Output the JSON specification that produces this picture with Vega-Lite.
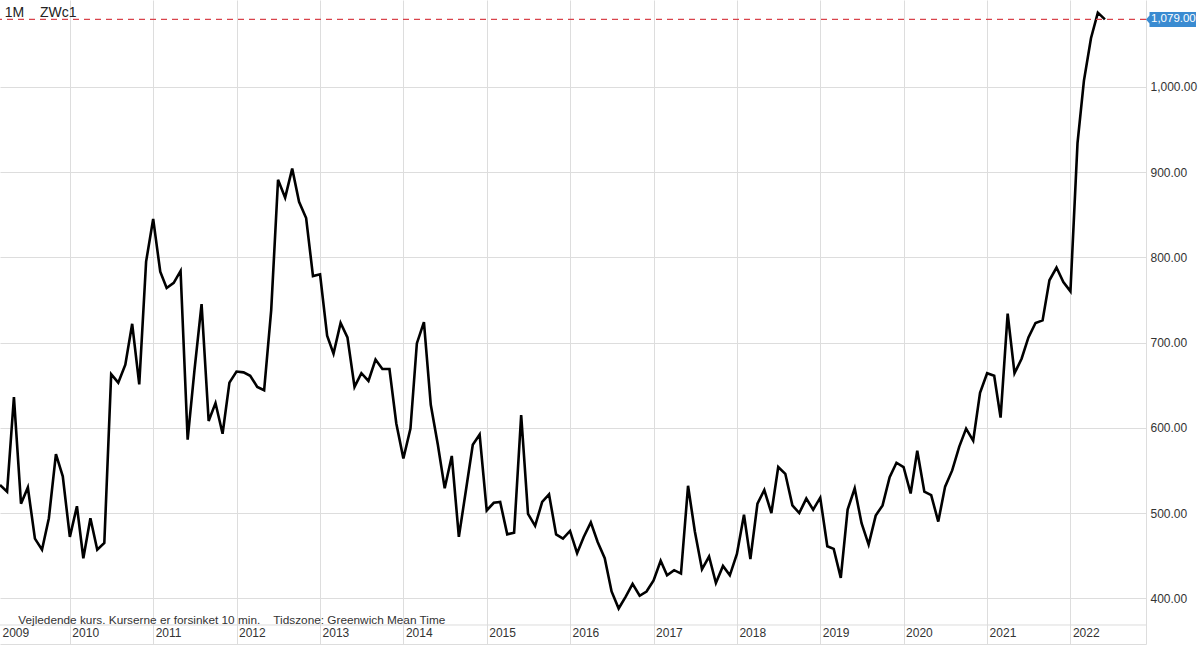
{
  "$schema": "https://vega.github.io/schema/vega-lite/v6.json",
  "width": 1146,
  "height": 644,
  "autosize": {"type": "none"},
  "padding": {"left": 0, "top": 0, "right": 54, "bottom": 7},
  "background": "white",
  "config": {"view": {"stroke": null}, "font": "Liberation Sans"},
  "data": {"values": [
    {"date": "2009-03-01", "price": 533}, {"date": "2009-04-01", "price": 525}, {"date": "2009-05-01", "price": 636}, {"date": "2009-06-01", "price": 511}, {"date": "2009-07-01", "price": 530}, {"date": "2009-08-01", "price": 470}, {"date": "2009-09-01", "price": 457}, {"date": "2009-10-01", "price": 494}, {"date": "2009-11-01", "price": 569}, {"date": "2009-12-01", "price": 543},
    {"date": "2010-01-01", "price": 472}, {"date": "2010-02-01", "price": 508}, {"date": "2010-03-01", "price": 447}, {"date": "2010-04-01", "price": 494}, {"date": "2010-05-01", "price": 457}, {"date": "2010-06-01", "price": 465}, {"date": "2010-07-01", "price": 663}, {"date": "2010-08-01", "price": 653}, {"date": "2010-09-01", "price": 674}, {"date": "2010-10-01", "price": 722}, {"date": "2010-11-01", "price": 651}, {"date": "2010-12-01", "price": 795},
    {"date": "2011-01-01", "price": 845}, {"date": "2011-02-01", "price": 783}, {"date": "2011-03-01", "price": 764}, {"date": "2011-04-01", "price": 770}, {"date": "2011-05-01", "price": 784}, {"date": "2011-06-01", "price": 586}, {"date": "2011-07-01", "price": 668}, {"date": "2011-08-01", "price": 745}, {"date": "2011-09-01", "price": 608}, {"date": "2011-10-01", "price": 629}, {"date": "2011-11-01", "price": 593}, {"date": "2011-12-01", "price": 653},
    {"date": "2012-01-01", "price": 666}, {"date": "2012-02-01", "price": 665}, {"date": "2012-03-01", "price": 661}, {"date": "2012-04-01", "price": 648}, {"date": "2012-05-01", "price": 644}, {"date": "2012-06-01", "price": 738}, {"date": "2012-07-01", "price": 891}, {"date": "2012-08-01", "price": 870}, {"date": "2012-09-01", "price": 904}, {"date": "2012-10-01", "price": 865}, {"date": "2012-11-01", "price": 846}, {"date": "2012-12-01", "price": 778},
    {"date": "2013-01-01", "price": 780}, {"date": "2013-02-01", "price": 708}, {"date": "2013-03-01", "price": 687}, {"date": "2013-04-01", "price": 723}, {"date": "2013-05-01", "price": 706}, {"date": "2013-06-01", "price": 648}, {"date": "2013-07-01", "price": 664}, {"date": "2013-08-01", "price": 655}, {"date": "2013-09-01", "price": 680}, {"date": "2013-10-01", "price": 669}, {"date": "2013-11-01", "price": 669}, {"date": "2013-12-01", "price": 605},
    {"date": "2014-01-01", "price": 564}, {"date": "2014-02-01", "price": 599}, {"date": "2014-03-01", "price": 699}, {"date": "2014-04-01", "price": 724}, {"date": "2014-05-01", "price": 627}, {"date": "2014-06-01", "price": 580}, {"date": "2014-07-01", "price": 529}, {"date": "2014-08-01", "price": 567}, {"date": "2014-09-01", "price": 472}, {"date": "2014-10-01", "price": 525}, {"date": "2014-11-01", "price": 580}, {"date": "2014-12-01", "price": 592},
    {"date": "2015-01-01", "price": 503}, {"date": "2015-02-01", "price": 512}, {"date": "2015-03-01", "price": 513}, {"date": "2015-04-01", "price": 475}, {"date": "2015-05-01", "price": 477}, {"date": "2015-06-01", "price": 615}, {"date": "2015-07-01", "price": 499}, {"date": "2015-08-01", "price": 485}, {"date": "2015-09-01", "price": 513}, {"date": "2015-10-01", "price": 522}, {"date": "2015-11-01", "price": 475}, {"date": "2015-12-01", "price": 470},
    {"date": "2016-01-01", "price": 479}, {"date": "2016-02-01", "price": 453}, {"date": "2016-03-01", "price": 472}, {"date": "2016-04-01", "price": 489}, {"date": "2016-05-01", "price": 466}, {"date": "2016-06-01", "price": 447}, {"date": "2016-07-01", "price": 408}, {"date": "2016-08-01", "price": 388}, {"date": "2016-09-01", "price": 402}, {"date": "2016-10-01", "price": 417}, {"date": "2016-11-01", "price": 403}, {"date": "2016-12-01", "price": 408},
    {"date": "2017-01-01", "price": 421}, {"date": "2017-02-01", "price": 444}, {"date": "2017-03-01", "price": 427}, {"date": "2017-04-01", "price": 433}, {"date": "2017-05-01", "price": 429}, {"date": "2017-06-01", "price": 532}, {"date": "2017-07-01", "price": 478}, {"date": "2017-08-01", "price": 434}, {"date": "2017-09-01", "price": 449}, {"date": "2017-10-01", "price": 418}, {"date": "2017-11-01", "price": 438}, {"date": "2017-12-01", "price": 427},
    {"date": "2018-01-01", "price": 452}, {"date": "2018-02-01", "price": 498}, {"date": "2018-03-01", "price": 446}, {"date": "2018-04-01", "price": 511}, {"date": "2018-05-01", "price": 527}, {"date": "2018-06-01", "price": 500}, {"date": "2018-07-01", "price": 554}, {"date": "2018-08-01", "price": 546}, {"date": "2018-09-01", "price": 509}, {"date": "2018-10-01", "price": 500}, {"date": "2018-11-01", "price": 517}, {"date": "2018-12-01", "price": 504},
    {"date": "2019-01-01", "price": 518}, {"date": "2019-02-01", "price": 461}, {"date": "2019-03-01", "price": 458}, {"date": "2019-04-01", "price": 424}, {"date": "2019-05-01", "price": 504}, {"date": "2019-06-01", "price": 529}, {"date": "2019-07-01", "price": 488}, {"date": "2019-08-01", "price": 463}, {"date": "2019-09-01", "price": 497}, {"date": "2019-10-01", "price": 509}, {"date": "2019-11-01", "price": 542}, {"date": "2019-12-01", "price": 559},
    {"date": "2020-01-01", "price": 554}, {"date": "2020-02-01", "price": 523}, {"date": "2020-03-01", "price": 573}, {"date": "2020-04-01", "price": 525}, {"date": "2020-05-01", "price": 521}, {"date": "2020-06-01", "price": 490}, {"date": "2020-07-01", "price": 531}, {"date": "2020-08-01", "price": 550}, {"date": "2020-09-01", "price": 578}, {"date": "2020-10-01", "price": 599}, {"date": "2020-11-01", "price": 585}, {"date": "2020-12-01", "price": 641},
    {"date": "2021-01-01", "price": 664}, {"date": "2021-02-01", "price": 661}, {"date": "2021-03-01", "price": 612}, {"date": "2021-04-01", "price": 734}, {"date": "2021-05-01", "price": 664}, {"date": "2021-06-01", "price": 681}, {"date": "2021-07-01", "price": 706}, {"date": "2021-08-01", "price": 723}, {"date": "2021-09-01", "price": 726}, {"date": "2021-10-01", "price": 773}, {"date": "2021-11-01", "price": 788}, {"date": "2021-12-01", "price": 771},
    {"date": "2022-01-01", "price": 760}, {"date": "2022-02-01", "price": 934}, {"date": "2022-03-01", "price": 1007}, {"date": "2022-04-01", "price": 1057}, {"date": "2022-05-01", "price": 1087}, {"date": "2022-06-01", "price": 1079}
  ]},
  "layer": [
    {
      "data": {"values": [{}]},
      "mark": {"type": "rule", "color": "#dddddd", "strokeWidth": 1},
      "encoding": {"y": {"datum": 368.7, "type": "quantitative"}}
    },
    {
      "mark": {"type": "line", "color": "black", "strokeWidth": 2.6},
      "encoding": {
        "x": {
          "field": "date", "type": "temporal",
          "scale": {"type": "utc", "domain": [1235865600000, 1669593600000], "nice": false},
          "axis": {
            "orient": "bottom", "title": null,
            "values": [1235865600000, 1262304000000, 1293840000000, 1325376000000, 1356998400000, 1388534400000, 1420070400000, 1451606400000, 1483228800000, 1514764800000, 1546300800000, 1577836800000, 1609459200000, 1640995200000],
            "labelExpr": "utcFormat(datum.value, '%Y')",
            "labelAlign": "left", "labelOffset": 2, "labelPadding": -17, "labelFlush": false, "labelOverlap": false,
            "labelFontSize": 12, "labelColor": "#333333", "labelFont": "Liberation Sans",
            "ticks": false, "domain": true, "domainColor": "#dddddd",
            "grid": true, "gridColor": "#dddddd",
            "gridOpacity": {"condition": {"test": "datum.value < 1262000000000", "value": 0}, "value": 1}
          }
        },
        "y": {
          "field": "price", "type": "quantitative",
          "scale": {"domain": [346.4, 1101.8], "nice": false, "zero": false},
          "axis": {
            "orient": "right", "title": null, "values": [400, 500, 600, 700, 800, 900, 1000],
            "format": ",.2f", "labelPadding": 4, "labelFontSize": 12, "labelColor": "#333333", "labelFont": "Liberation Sans",
            "ticks": false, "domain": true, "domainColor": "#dddddd",
            "grid": true, "gridColor": "#dddddd"
          }
        }
      }
    },
    {
      "data": {"values": [{}]},
      "mark": {"type": "rule", "color": "#d9434b", "strokeWidth": 1.2, "strokeDash": [6, 5]},
      "encoding": {"y": {"datum": 1079, "type": "quantitative"}}
    },
    {
      "data": {"values": [{}]},
      "mark": {"type": "point", "shape": "M0,0 L0.35,-0.4 L0.35,-0.75 L5,-0.75 L5,0.75 L0.35,0.75 L0.35,0.4 Z", "size": 400, "filled": true, "fill": "#3a8bd1", "strokeWidth": 0, "opacity": 1},
      "encoding": {
        "x": {"datum": 1669593600000, "type": "temporal"},
        "y": {"datum": 1079, "type": "quantitative"}
      }
    },
    {
      "data": {"values": [{}]},
      "mark": {"type": "text", "text": "1,079.00", "align": "left", "baseline": "middle", "dx": 5, "color": "white", "fontSize": 11.5, "font": "Liberation Sans"},
      "encoding": {
        "x": {"datum": 1669593600000, "type": "temporal"},
        "y": {"datum": 1079, "type": "quantitative"}
      }
    },
    {
      "data": {"values": [{}]},
      "mark": {"type": "text", "text": "1M", "align": "left", "baseline": "middle", "color": "#222222", "fontSize": 14, "font": "Liberation Sans"},
      "encoding": {
        "x": {"datum": 1237680000000, "type": "temporal"},
        "y": {"datum": 1086, "type": "quantitative"}
      }
    },
    {
      "data": {"values": [{}]},
      "mark": {"type": "text", "text": "ZWc1", "align": "left", "baseline": "middle", "color": "#222222", "fontSize": 14, "font": "Liberation Sans"},
      "encoding": {
        "x": {"datum": 1250985600000, "type": "temporal"},
        "y": {"datum": 1086, "type": "quantitative"}
      }
    },
    {
      "data": {"values": [{}]},
      "mark": {"type": "text", "text": "Vejledende kurs. Kurserne er forsinket 10 min.\u00a0\u00a0\u00a0\u00a0Tidszone: Greenwich Mean Time", "align": "left", "baseline": "middle", "color": "#333333", "fontSize": 11.8, "font": "Liberation Sans"},
      "encoding": {
        "x": {"datum": 1242777600000, "type": "temporal"},
        "y": {"datum": 374.5, "type": "quantitative"}
      }
    }
  ]
}
